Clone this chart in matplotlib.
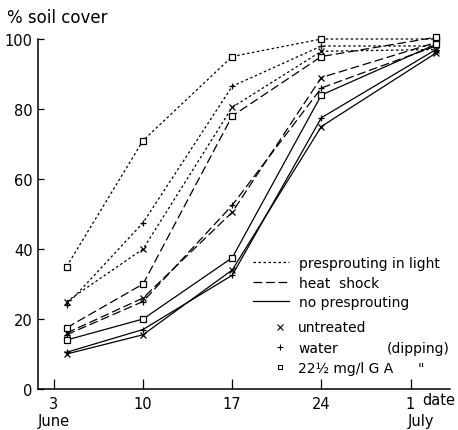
import matplotlib
matplotlib.use("Agg")
import matplotlib.pyplot as plt
from matplotlib.lines import Line2D

# sampling dates (day of June, 1 July = 31)
days = [4, 10, 17, 24, 33]
tick_days = [3, 10, 17, 24, 31]
tick_labels = ["3\nJune", "10", "17", "24", "1"]

# presprouting in light
light_untreated = [25, 40, 80.5, 96.5, 97]
light_water = [24, 47.5, 86.5, 98, 98]
light_ga = [35, 71, 95, 100, 100]
# heat shock
heat_untreated = [16, 26, 50.5, 89, 99]
heat_water = [15.5, 25, 52.5, 86, 98]
heat_ga = [17.5, 30, 78, 95, 100.5]
# no presprouting
none_untreated = [10, 15.5, 34, 75, 96]
none_water = [10.5, 17, 32.5, 77.5, 97]
none_ga = [14, 20, 37.5, 84, 98.5]

light_ls = (0, (2, 2))
heat_ls = (0, (7, 3))
none_ls = "-"

plt.rcParams['font.family'] = ['DejaVu Sans']
plt.rcParams['font.size'] = 10

fig = plt.figure(figsize=(4.58, 4.31), dpi=100)
ax = fig.add_axes([38 / 458, 41 / 431, 412 / 458, 350 / 431])

series = [
    (light_untreated, light_ls, 'x'),
    (light_water, light_ls, '+'),
    (light_ga, light_ls, 's'),
    (heat_untreated, heat_ls, 'x'),
    (heat_water, heat_ls, '+'),
    (heat_ga, heat_ls, 's'),
    (none_untreated, none_ls, 'x'),
    (none_water, none_ls, '+'),
    (none_ga, none_ls, 's'),
]
for vals, ls, mk in series:
    ax.plot(days, vals, color='black', lw=0.9, linestyle=ls, marker=mk,
            markersize=4.5 if mk != 's' else 4, markerfacecolor='white',
            markeredgewidth=0.9, clip_on=False)

ax.set_xlim(1.75, 34.1)
ax.set_ylim(0, 100)
ax.set_xticks(tick_days)
ax.set_xticklabels(tick_labels, linespacing=1.15)
ax.set_yticks([0, 20, 40, 60, 80, 100])
ax.tick_params(axis='x', direction='in', length=7, width=0.9, pad=5,
               labelsize=10.5)
ax.tick_params(axis='y', direction='in', length=4, width=0.9, pad=4,
               labelsize=10.5)
ax.spines['top'].set_visible(False)
ax.spines['right'].set_visible(False)
ax.spines['left'].set_linewidth(1.1)
ax.spines['bottom'].set_linewidth(1.1)

tr = ax.get_xaxis_transform()
ax.text(31.9, -0.031, "date", transform=tr, ha='left', va='center',
        fontsize=10.5)
ax.text(30.8, -0.089, "July", transform=tr, ha='left', va='center',
        fontsize=10.5)

fig.text(7 / 458, 1 - 18 / 431, "% soil cover", ha='left', va='center',
         fontsize=12)

# line style legend
style_handles = [Line2D([], [], color='black', lw=0.9, linestyle=light_ls),
                 Line2D([], [], color='black', lw=0.9, linestyle=heat_ls),
                 Line2D([], [], color='black', lw=0.9, linestyle=none_ls)]
leg1 = ax.legend(style_handles,
                 ["presprouting in light", "heat  shock", "no presprouting"],
                 loc='upper left', bbox_to_anchor=(0.522, 0.38),
                 frameon=False, borderpad=0, borderaxespad=0,
                 handlelength=2.6, handletextpad=0.7, labelspacing=0.4)
ax.add_artist(leg1)

marker_handles = [Line2D([], [], ls='none', color='black', marker='x',
                         markersize=4, markeredgewidth=0.8),
                  Line2D([], [], ls='none', color='black', marker='+',
                         markersize=4.5, markeredgewidth=0.8),
                  Line2D([], [], ls='none', color='black', marker='s',
                         markersize=3.5, markerfacecolor='white',
                         markeredgewidth=0.8)]
leg2 = ax.legend(marker_handles,
                 ["untreated", "water", "22\u00bd mg/l G A"],
                 loc='upper left', bbox_to_anchor=(0.567, 0.196),
                 frameon=False, borderpad=0, borderaxespad=0,
                 handlelength=1.2, handletextpad=0.7, labelspacing=0.45)

ax.text(1.0, 0.117, "(dipping)", transform=ax.transAxes, ha='right',
        va='center')
ax.text(0.93, 0.06, "\"", transform=ax.transAxes, ha='center',
        va='center')

fig.savefig("out.png", dpi=100)
